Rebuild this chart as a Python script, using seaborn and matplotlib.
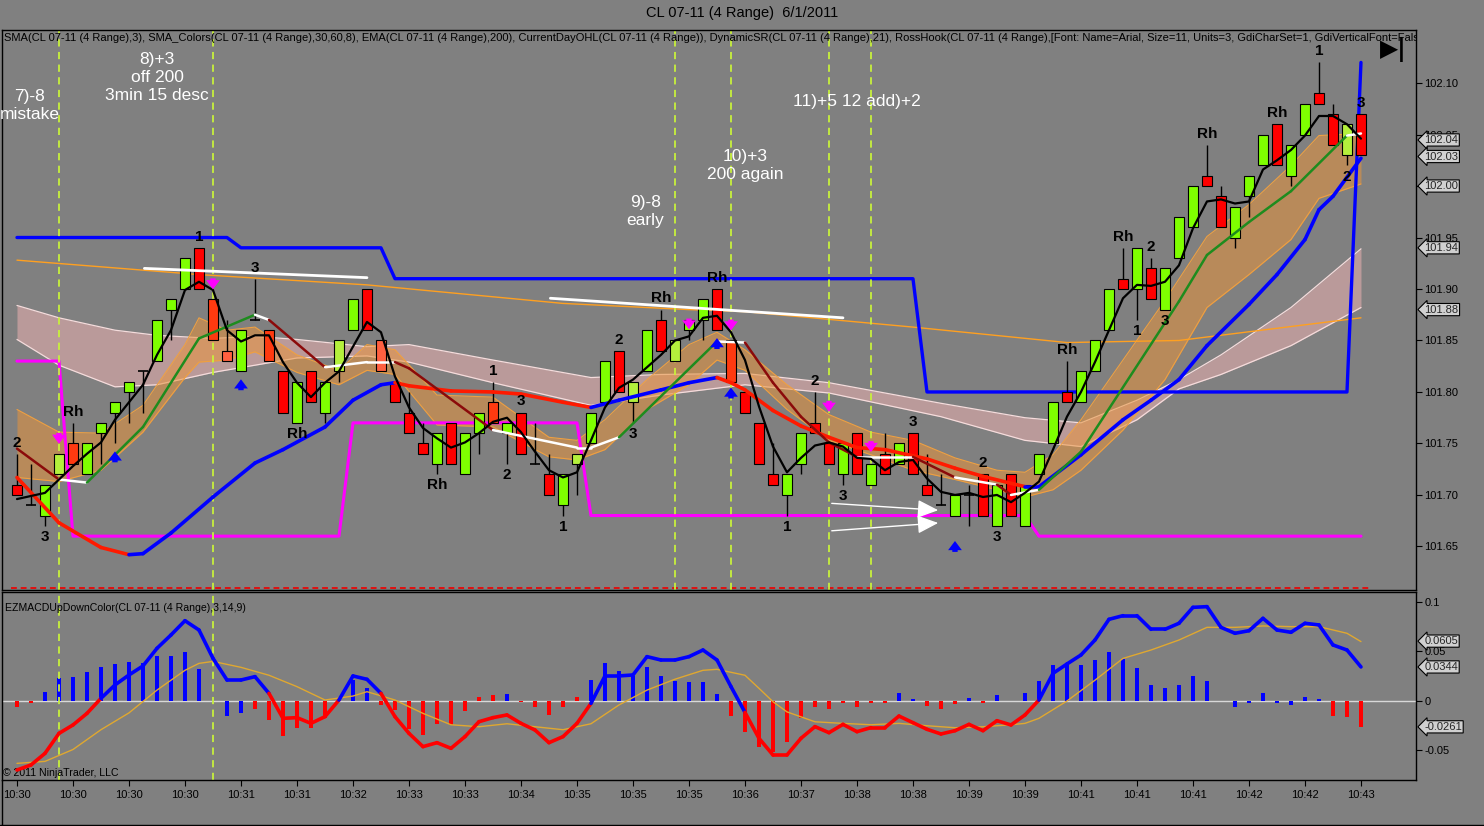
import matplotlib
matplotlib.use("Agg")
import matplotlib.pyplot as plt
import seaborn as sns
import pandas as pd
import numpy as np

# ---- CL 07-11 (4 Range) bars, 6/1/2011 ----
opens = [101.71, 101.69, 101.68, 101.72, 101.75, 101.72, 101.76, 101.78, 101.80, 101.82,
         101.83, 101.88, 101.90, 101.94, 101.89, 101.84, 101.82, 101.87, 101.86, 101.82,
         101.77, 101.82, 101.78, 101.82, 101.86, 101.90, 101.85, 101.81, 101.78, 101.75,
         101.73, 101.77, 101.72, 101.76, 101.79, 101.76, 101.78, 101.73, 101.72, 101.69,
         101.73, 101.75, 101.79, 101.84, 101.79, 101.82, 101.87, 101.83, 101.86, 101.87,
         101.90, 101.85, 101.80, 101.77, 101.72, 101.70, 101.73, 101.77, 101.75, 101.72,
         101.76, 101.71, 101.74, 101.73, 101.76, 101.71, 101.69, 101.68, 101.70, 101.72,
         101.67, 101.72, 101.67, 101.72, 101.75, 101.80, 101.79, 101.82, 101.86, 101.91,
         101.90, 101.92, 101.88, 101.93, 101.96, 102.01, 101.99, 101.95, 101.99, 102.02,
         102.06, 102.01, 102.05, 102.09, 102.07, 102.03, 102.07]
closes = [101.70, 101.69, 101.71, 101.74, 101.73, 101.75, 101.77, 101.79, 101.81, 101.82,
          101.87, 101.89, 101.93, 101.90, 101.85, 101.83, 101.86, 101.87, 101.83, 101.78,
          101.81, 101.79, 101.81, 101.85, 101.89, 101.86, 101.82, 101.79, 101.76, 101.74,
          101.76, 101.73, 101.76, 101.78, 101.77, 101.77, 101.74, 101.73, 101.70, 101.72,
          101.74, 101.78, 101.83, 101.80, 101.81, 101.86, 101.84, 101.85, 101.87, 101.89,
          101.86, 101.81, 101.78, 101.73, 101.71, 101.72, 101.76, 101.76, 101.73, 101.75,
          101.72, 101.73, 101.72, 101.75, 101.72, 101.70, 101.69, 101.70, 101.70, 101.68,
          101.71, 101.68, 101.71, 101.74, 101.79, 101.79, 101.82, 101.85, 101.90, 101.90,
          101.94, 101.89, 101.92, 101.97, 102.00, 102.00, 101.96, 101.98, 102.01, 102.05,
          102.02, 102.04, 102.08, 102.08, 102.04, 102.06, 102.03]
highs = [101.74, 101.73, 101.71, 101.74, 101.77, 101.75, 101.77, 101.79, 101.81, 101.82,
         101.87, 101.89, 101.93, 101.94, 101.89, 101.87, 101.86, 101.91, 101.86, 101.82,
         101.81, 101.82, 101.81, 101.85, 101.89, 101.90, 101.85, 101.81, 101.80, 101.77,
         101.76, 101.77, 101.76, 101.78, 101.81, 101.77, 101.78, 101.77, 101.74, 101.72,
         101.74, 101.78, 101.83, 101.84, 101.81, 101.86, 101.88, 101.85, 101.87, 101.89,
         101.90, 101.85, 101.80, 101.77, 101.75, 101.72, 101.76, 101.80, 101.75, 101.75,
         101.76, 101.73, 101.76, 101.75, 101.76, 101.74, 101.72, 101.70, 101.71, 101.72,
         101.71, 101.72, 101.71, 101.74, 101.79, 101.83, 101.82, 101.85, 101.90, 101.94,
         101.94, 101.93, 101.92, 101.97, 102.00, 102.04, 102.00, 101.98, 102.01, 102.05,
         102.06, 102.04, 102.08, 102.12, 102.08, 102.06, 102.07]
lows = [101.70, 101.69, 101.67, 101.72, 101.73, 101.72, 101.73, 101.75, 101.77, 101.78,
        101.83, 101.85, 101.90, 101.90, 101.85, 101.83, 101.82, 101.87, 101.83, 101.78,
        101.77, 101.79, 101.77, 101.81, 101.86, 101.86, 101.82, 101.79, 101.76, 101.74,
        101.72, 101.73, 101.72, 101.74, 101.77, 101.73, 101.74, 101.73, 101.70, 101.68,
        101.70, 101.75, 101.79, 101.80, 101.77, 101.82, 101.84, 101.83, 101.85, 101.85,
        101.86, 101.81, 101.78, 101.73, 101.71, 101.68, 101.72, 101.76, 101.73, 101.71,
        101.72, 101.71, 101.72, 101.73, 101.72, 101.70, 101.69, 101.68, 101.67, 101.68,
        101.67, 101.68, 101.67, 101.72, 101.75, 101.79, 101.79, 101.82, 101.86, 101.90,
        101.87, 101.89, 101.88, 101.93, 101.96, 102.00, 101.96, 101.94, 101.97, 102.02,
        102.02, 102.00, 102.05, 102.08, 102.04, 102.02, 102.03]
# bar paint: g green, y yellow-green, r red, o orange-red, t light red, k doji
bar_shade = ("rkgyoggggk" "gggrotgkor" "grgygrtrrr" "grggogrkrg" "yggrygrygg"
             "rorrrggrrg" "rgrgrrkgkr" "grgggrgggr" "grgggrrggg" "rggrryr")

time_labels = ["10:30", "10:30", "10:30", "10:30", "10:31", "10:31", "10:32", "10:33",
               "10:33", "10:34", "10:35", "10:35", "10:35", "10:36", "10:37", "10:38",
               "10:38", "10:39", "10:39", "10:41", "10:41", "10:41", "10:42", "10:42", "10:43"]

# SMA(3)
sma3 = [101.696, 101.699, 101.702, 101.715, 101.728, 101.740, 101.751, 101.773, 101.790, 101.807,
        101.836, 101.860, 101.899, 101.907, 101.899, 101.860, 101.849, 101.855, 101.855, 101.829,
        101.809, 101.795, 101.809, 101.820, 101.844, 101.868, 101.858, 101.815, 101.785, 101.765,
        101.755, 101.746, 101.751, 101.760, 101.771, 101.775, 101.761, 101.742, 101.724, 101.717,
        101.722, 101.753, 101.785, 101.804, 101.812, 101.824, 101.836, 101.850, 101.854, 101.872,
        101.874, 101.858, 101.831, 101.786, 101.747, 101.722, 101.736, 101.748, 101.751, 101.747,
        101.736, 101.735, 101.724, 101.732, 101.734, 101.716, 101.703, 101.700, 101.702, 101.698,
        101.700, 101.693, 101.702, 101.713, 101.744, 101.776, 101.800, 101.829, 101.860, 101.891,
        101.904, 101.903, 101.907, 101.923, 101.959, 101.985, 101.987, 101.983, 101.985, 102.016,
        102.025, 102.035, 102.049, 102.068, 102.068, 102.060, 102.046]

# EMA(200)
ema_bars = [0, 13, 25, 39, 48, 52, 64, 75, 83, 96]
ema_vals = [101.928, 101.914, 101.904, 101.886, 101.880, 101.878, 101.863, 101.848, 101.850, 101.872]

# DynamicSR
sr_high_bars = [0, 15, 16, 26, 27, 64, 65, 95, 96]
sr_high_vals = [101.95, 101.95, 101.94, 101.94, 101.91, 101.91, 101.80, 101.80, 102.12]
sr_low_bars = [0, 3, 4, 23, 24, 40, 41, 72, 73, 96]
sr_low_vals = [101.83, 101.83, 101.66, 101.66, 101.77, 101.77, 101.68, 101.68, 101.66, 101.66]
day_low = 101.61

# SMA_Colors slow line (blue rising / red falling)
slow_bars = [0, 3, 6, 8, 9, 11, 14, 17, 19, 22, 24, 26, 27, 28, 31, 34, 36, 39, 41, 43, 46, 48,
             50, 51, 52, 54, 56, 58, 60, 62, 65, 67, 69, 72, 73, 76, 79, 81, 83, 85, 88, 90, 92,
             93, 94, 96]
slow_vals = [101.717, 101.673, 101.649, 101.642, 101.643, 101.663, 101.698, 101.731, 101.744,
             101.766, 101.792, 101.807, 101.809, 101.806, 101.801, 101.800, 101.798, 101.790,
             101.785, 101.792, 101.802, 101.809, 101.814, 101.809, 101.802, 101.782, 101.767,
             101.756, 101.746, 101.744, 101.735, 101.726, 101.718, 101.708, 101.708, 101.739,
             101.773, 101.792, 101.812, 101.845, 101.885, 101.914, 101.948, 101.977, 101.990,
             102.027]

# SMA_Colors mid line, state per segment: u rising, d falling, f flat
mid_bars = [0, 3, 5, 9, 13, 17, 18, 22, 25, 27, 28, 34, 40, 41, 43, 50, 52, 54, 56, 58, 60, 64,
            67, 70, 71, 73, 76, 83, 85, 88, 91, 95, 96]
mid_vals = [101.745, 101.715, 101.712, 101.766, 101.852, 101.875, 101.870, 101.824, 101.829,
            101.829, 101.823, 101.763, 101.746, 101.746, 101.756, 101.849, 101.848, 101.809,
            101.776, 101.751, 101.737, 101.737, 101.717, 101.710, 101.700, 101.705, 101.742,
            101.888, 101.933, 101.965, 101.995, 102.049, 102.051]
mid_state = "dfuuufdffddfffufddddfdfdfuuuuuuf"

# fast envelope (orange)
fast_bars = [0, 3, 6, 9, 12, 13, 15, 17, 20, 23, 25, 27, 30, 34, 38, 40, 42, 45, 48, 50, 52, 55,
             58, 61, 64, 67, 70, 72, 74, 76, 79, 82, 85, 88, 91, 93, 96]
fast_hi = [101.783, 101.761, 101.760, 101.787, 101.846, 101.872, 101.860, 101.863, 101.836,
           101.821, 101.846, 101.841, 101.797, 101.795, 101.756, 101.753, 101.773, 101.812,
           101.846, 101.858, 101.841, 101.807, 101.778, 101.761, 101.753, 101.736, 101.724,
           101.722, 101.739, 101.773, 101.831, 101.889, 101.951, 101.982, 102.020, 102.049, 102.051]
fast_lo = [101.717, 101.713, 101.724, 101.761, 101.814, 101.829, 101.831, 101.839, 101.819,
           101.807, 101.821, 101.817, 101.768, 101.766, 101.737, 101.734, 101.744, 101.783,
           101.807, 101.831, 101.821, 101.783, 101.753, 101.739, 101.724, 101.715, 101.705,
           101.698, 101.705, 101.724, 101.763, 101.812, 101.882, 101.914, 101.948, 101.988, 102.002]

# slow envelope (pink)
env_bars = [0, 3, 7, 10, 14, 17, 20, 25, 28, 34, 41, 46, 52, 58, 66, 72, 76, 80, 83, 86, 91, 96]
env_hi = [101.884, 101.872, 101.860, 101.855, 101.852, 101.854, 101.851, 101.844, 101.846,
          101.831, 101.814, 101.817, 101.818, 101.809, 101.789, 101.775, 101.770, 101.792,
          101.812, 101.836, 101.882, 101.939]
env_lo = [101.851, 101.826, 101.805, 101.807, 101.819, 101.826, 101.833, 101.835, 101.829,
          101.809, 101.787, 101.797, 101.807, 101.799, 101.776, 101.753, 101.747, 101.773,
          101.803, 101.817, 101.845, 101.882]

# EZMACDUpDownColor(3,14,9)
macd = [-0.0697, -0.0646, -0.0529, -0.0327, -0.0242, -0.0125, 0.0027, 0.0162, 0.0263, 0.0354,
        0.0532, 0.0667, 0.0811, 0.0717, 0.0431, 0.0212, 0.0212, 0.0246, 0.0077, -0.0175,
        -0.0168, -0.0226, -0.0158, 0.0010, 0.0253, 0.0219, 0.0077, -0.0158, -0.0327, -0.0461,
        -0.0421, -0.0478, -0.0360, -0.0209, -0.0168, -0.0141, -0.0226, -0.0293, -0.0421, -0.0360,
        -0.0226, -0.0024, 0.0253, 0.0253, 0.0263, 0.0448, 0.0414, 0.0414, 0.0448, 0.0515,
        0.0414, 0.0145, -0.0115, -0.0377, -0.0545, -0.0545, -0.0377, -0.0259, -0.0320, -0.0236,
        -0.0310, -0.0269, -0.0269, -0.0152, -0.0219, -0.0286, -0.0333, -0.0300, -0.0236, -0.0300,
        -0.0199, -0.0242, -0.0141, 0.0010, 0.0279, 0.0374, 0.0465, 0.0616, 0.0825, 0.0862,
        0.0862, 0.0724, 0.0724, 0.0785, 0.0946, 0.0953, 0.0744, 0.0684, 0.0710, 0.0835,
        0.0717, 0.0694, 0.0785, 0.0768, 0.0566, 0.0515, 0.0344]
signal_bars = [0, 2, 4, 6, 8, 10, 12, 13, 14, 16, 18, 20, 22, 24, 25, 27, 29, 31, 33, 35, 37, 39,
               41, 43, 45, 47, 49, 50, 52, 53, 54, 55, 57, 59, 61, 63, 65, 67, 69, 71, 72, 73, 75,
               77, 79, 81, 83, 85, 87, 89, 91, 93, 95, 96]
signal_vals = [-0.063, -0.061, -0.049, -0.029, -0.012, 0.011, 0.031, 0.038, 0.040, 0.034, 0.026,
               0.0145, 0.001, 0.005, 0.0094, 0.001, -0.0125, -0.024, -0.026, -0.023, -0.026,
               -0.029, -0.023, -0.004, 0.011, 0.022, 0.031, 0.032, 0.026, 0.0128, -0.0007,
               -0.011, -0.021, -0.0226, -0.024, -0.0226, -0.025, -0.027, -0.026, -0.024, -0.0226,
               -0.0175, 0.0, 0.021, 0.043, 0.0515, 0.0616, 0.0744, 0.0744, 0.0758, 0.0751,
               0.0751, 0.0684, 0.0600]
hist = [-0.0057, -0.0017, 0.0094, 0.0229, 0.0246, 0.0296, 0.0340, 0.0374, 0.0397, 0.0380,
        0.0458, 0.0458, 0.0498, 0.0323, 0.0, -0.0152, -0.0118, -0.0081, -0.0192, -0.0350,
        -0.0276, -0.0276, -0.0175, 0.0, 0.0212, 0.0135, -0.0040, -0.0091, -0.0286, -0.0343,
        -0.0232, -0.0242, -0.0101, 0.0037, 0.0060, 0.0067, -0.0010, -0.0064, -0.0141, -0.0064,
        0.0037, 0.0212, 0.0387, 0.0303, 0.0256, 0.0340, 0.0253, 0.0205, 0.0195, 0.0195,
        0.0071, -0.0148, -0.0310, -0.0461, -0.0512, -0.0410, -0.0175, -0.0057, -0.0084, -0.0017,
        -0.0057, -0.0024, -0.0024, 0.0077, 0.0020, -0.0050, -0.0081, -0.0034, 0.0034, -0.0024,
        0.0060, 0.0, 0.0084, 0.0205, 0.0364, 0.0364, 0.0364, 0.0414, 0.0492, 0.0421,
        0.0330, 0.0162, 0.0135, 0.0162, 0.0253, 0.0205, 0.0, -0.0057, -0.0017, 0.0084,
        -0.0024, -0.0040, 0.0037, 0.0024, -0.0152, -0.0158, -0.0259]
hist_color = ("rrbbbbbbbb" "bbbbbbbrrr" "rrrrbbrrrr" "rrrrrbrrrr" "rbbbbbbbbb"
              "brrrrrrrrr" "rrrbbrrrbr" "bbbbbbbbbb" "bbbbbbbbbb" "bbbbrrr")

price_tags = [102.04, 102.03, 102.00, 101.94, 101.88]
macd_tags = [0.0605, 0.0344, -0.0261]

# RossHook swing labels: (bar, text, above/below)
swing_labels = [(0, "2", "a"), (2, "3", "b"), (4, "Rh", "a"), (13, "1", "a"), (17, "3", "a"),
                (20, "Rh", "b"), (30, "Rh", "b"), (34, "1", "a"), (35, "2", "b"), (36, "3", "a"),
                (39, "1", "b"), (43, "2", "a"), (44, "3", "b"), (46, "Rh", "a"), (50, "Rh", "a"),
                (55, "1", "b"), (57, "2", "a"), (59, "3", "b"), (64, "3", "a"), (69, "2", "a"),
                (70, "3", "b"), (75, "Rh", "a"), (79, "Rh", "a"), (80, "1", "b"), (81, "2", "a"),
                (82, "3", "b"), (85, "Rh", "a"), (90, "Rh", "a"), (93, "1", "a"), (95, "2", "b"),
                (96, "3", "a")]
entry_bars = [3, 14, 47, 51, 58, 61]
short_arrow_bars = [3, 14, 48, 51, 58, 61]
short_arrow_tips = [101.747, 101.897, 101.858, 101.857, 101.778, 101.739]
long_arrow_bars = [7, 16, 50, 51, 67]
long_arrow_tips = [101.745, 101.815, 101.855, 101.807, 101.658]
trade_notes = ["7)-8\nmistake", "8)+3\noff 200\n3min 15 desc", "9)-8\nearly",
               "10)+3\n200 again", "11)+5 12 add)+2"]

sns.set_style("ticks")
plt.rcParams["font.family"] = ["Liberation Sans", "DejaVu Sans"]
GREY = "#808080"

fig = plt.figure(figsize=(14.84, 8.26), dpi=100, facecolor=GREY)
ax = fig.add_axes([2 / 1484, 236 / 826, 1414 / 1484, 560 / 826], facecolor=GREY)
ax2 = fig.add_axes([2 / 1484, 46 / 826, 1414 / 1484, 188 / 826], facecolor=GREY, sharex=ax)

# envelopes
ax.fill_between(env_bars, env_lo, env_hi, color="#F4B4B4", alpha=0.5, lw=0, zorder=1)
ax.plot(env_bars, env_hi, color="#F5DCDC", lw=0.9, zorder=1.2)
ax.plot(env_bars, env_lo, color="#F5DCDC", lw=0.9, zorder=1.2)
ax.fill_between(fast_bars, fast_lo, fast_hi, color="#E8943C", alpha=0.55, lw=0, zorder=1.5)
ax.plot(fast_bars, fast_hi, color="#F0A040", lw=0.8, zorder=1.6)
ax.plot(fast_bars, fast_lo, color="#F0A040", lw=0.8, zorder=1.6)

sns.lineplot(x=ema_bars, y=ema_vals, ax=ax, color="#FFA020", lw=1, zorder=2)
ax.plot(sr_high_bars, sr_high_vals, color="#0000FF", lw=2.4, zorder=2)
ax.plot(sr_low_bars, sr_low_vals, color="#FF00FF", lw=2.2, zorder=2)
ax.plot([-0.4, 96.6], [day_low, day_low], color="#E01010", lw=1.4, ls=(0, (3, 2)), zorder=2)

for b in entry_bars:
    ax.axvline(b, color="#C8F03C", lw=1.3, ls=(0, (4, 3)), zorder=2.5)
for b in entry_bars[:2]:
    ax2.axvline(b, color="#C8F03C", lw=1.3, ls=(0, (4, 3)), zorder=2.5)

# candles
df = pd.DataFrame({"o": opens, "c": closes, "h": highs, "l": lows, "shade": list(bar_shade)})
df["bar"] = np.arange(len(df))
paint = {"g": "#7FFF00", "y": "#B4F03C", "r": "#FF0000", "o": "#FF3A10", "t": "#FF6040"}
ax.vlines(df.bar, df.l, df.h, color="black", lw=1, zorder=4)
body = df[df.shade != "k"]
ax.bar(body.bar, (body.c - body.o).abs(), bottom=np.minimum(body.o, body.c), width=0.66,
       color=[paint[s] for s in body.shade], edgecolor="black", linewidth=0.8, zorder=5)
doji = df[df.shade == "k"]
ax.hlines(doji.o, doji.bar - 0.33, doji.bar + 0.33, color="black", lw=1.2, zorder=5)

# slow SMA coloured by slope
for k in range(len(slow_bars) - 1):
    col = "#0000FF" if slow_vals[k + 1] >= slow_vals[k] else "#FF1A00"
    ax.plot(slow_bars[k:k + 2], slow_vals[k:k + 2], color=col, lw=2.6,
            solid_capstyle="round", zorder=6)

state_col = {"u": "#1E8C1E", "d": "#8B0A0A", "f": "white"}
for k, s in enumerate(mid_state):
    ax.plot(mid_bars[k:k + 2], mid_vals[k:k + 2], color=state_col[s], lw=1.8,
            solid_capstyle="round", zorder=6.5)

sns.lineplot(x=df.bar, y=sma3, ax=ax, color="black", lw=1.6, zorder=7)

# drawn trend lines and arrows
ax.plot([9.1, 25], [101.920, 101.911], color="white", lw=2, zorder=7)
ax.plot([38.1, 59], [101.891, 101.872], color="white", lw=2, zorder=7)
for y0, y1 in [(101.692, 101.685), (101.665, 101.673)]:
    ax.annotate("", xy=(66, y1), xytext=(58, y0), zorder=8,
                arrowprops=dict(arrowstyle="-|>,head_length=0.8,head_width=0.35",
                                color="white", lw=1, mutation_scale=16))
for b, p in zip(short_arrow_bars, short_arrow_tips):
    ax.annotate("", xy=(b, p), xytext=(b, p + 0.016), zorder=8,
                arrowprops=dict(arrowstyle="simple,head_width=0.9,head_length=0.6,tail_width=0.35",
                                color="#FF00FF", mutation_scale=11, lw=0))
for b, p in zip(long_arrow_bars, long_arrow_tips):
    ax.annotate("", xy=(b, p), xytext=(b, p - 0.016), zorder=8,
                arrowprops=dict(arrowstyle="simple,head_width=0.9,head_length=0.6,tail_width=0.35",
                                color="#0000FF", mutation_scale=11, lw=0))

for b, txt, side in swing_labels:
    yv = df.h[b] if side == "a" else df.l[b]
    ax.annotate(txt, xy=(b, yv), xytext=(0, 8 if side == "a" else -8),
                textcoords="offset points", ha="center", va="center",
                fontsize=11, fontweight="bold", color="black", zorder=9)

note_pos = [(0.9, 102.078), (10, 102.105), (44.9, 101.975), (52, 102.020), (60, 102.082)]
for (xb, yp), txt in zip(note_pos, trade_notes):
    ax.text(xb, yp, txt, color="white", fontsize=12.5, ha="center", va="center",
            linespacing=1.25, zorder=9)

ax.text(0.0015, 0.986, "SMA(CL 07-11 (4 Range),3), SMA_Colors(CL 07-11 (4 Range),30,60,8), "
        "EMA(CL 07-11 (4 Range),200), CurrentDayOHL(CL 07-11 (4 Range)), "
        "DynamicSR(CL 07-11 (4 Range),21), RossHook(CL 07-11 (4 Range),[Font: Name=Arial, "
        "Size=11, Units=3, GdiCharSet=1, GdiVerticalFont=False",
        transform=ax.transAxes, fontsize=8.05, va="center", ha="left", color="black",
        clip_on=True, zorder=10)
ax.text(0.984, 0.966, "\u25B6|", transform=ax.transAxes, fontsize=17, fontweight="bold",
        family="DejaVu Sans", ha="center", va="center", color="black", zorder=11)

ax.set_xlim(-1.07, 99.93)
ax.set_ylim(101.6077, 102.1515)
ax.yaxis.tick_right()
price_ticks = np.round(np.arange(101.65, 102.101, 0.05), 2)
ax.set_yticks(price_ticks)
# the 102.00 level is covered by its own value tag
ax.set_yticklabels(["" if abs(t - 102.00) < 1e-6 else f"{t:.2f}" for t in price_ticks])
ax.tick_params(axis="y", direction="out", length=4, labelsize=8, colors="black", pad=2)
ax.tick_params(axis="x", bottom=False, labelbottom=False)
ax.set_xlabel("")
ax.set_ylabel("")
tag_nudge = [3.5, -1, 0, 0, 0]
for v, dy in zip(price_tags, tag_nudge):
    ax.annotate(f"{v:.2f}", xy=(1.0, v), xycoords=("axes fraction", "data"), xytext=(6, dy),
                textcoords="offset points", ha="left", va="center", fontsize=8,
                bbox=dict(boxstyle="larrow,pad=0.1", fc="#D0D0D0", ec="black", lw=0.8),
                annotation_clip=False, zorder=11)

# MACD panel
ax2.axhline(0, color="#D8D8D8", lw=1, zorder=1)
ax2.bar(df.bar, hist, width=0.22, linewidth=0,
        color=["#0000FF" if c == "b" else "#FF0000" for c in hist_color], zorder=2)
sns.lineplot(x=signal_bars, y=signal_vals, ax=ax2, color="#E0A830", lw=1, zorder=3)
for k in range(len(macd) - 1):
    col = "#0000FF" if macd[k] + macd[k + 1] >= 0 else "#FF0000"
    ax2.plot([k, k + 1], macd[k:k + 2], color=col, lw=2.6, solid_capstyle="round", zorder=4)
ax2.set_ylim(-0.0798, 0.1101)
ax2.yaxis.tick_right()
ax2.set_yticks([0.1, 0.05, 0, -0.05])
ax2.set_yticklabels(["0.1", "0.05", "0", "-0.05"])
ax2.tick_params(axis="y", direction="out", length=4, labelsize=8, colors="black", pad=2)
ax2.set_xticks(np.arange(0, 97, 4))
ax2.set_xticklabels(time_labels)
ax2.tick_params(axis="x", direction="out", length=4, labelsize=8, colors="black", pad=3)
ax2.set_xlabel("")
ax2.set_ylabel("")
for v in macd_tags:
    ax2.annotate(f"{v:.4f}", xy=(1.0, v), xycoords=("axes fraction", "data"), xytext=(6, 0),
                 textcoords="offset points", ha="left", va="center", fontsize=8,
                 bbox=dict(boxstyle="larrow,pad=0.1", fc="#D0D0D0", ec="black", lw=0.8),
                 annotation_clip=False, zorder=11)
ax2.text(0.002, 0.915, "EZMACDUpDownColor(CL 07-11 (4 Range),3,14,9)", transform=ax2.transAxes,
         fontsize=7.6, ha="left", va="center", color="black")
ax2.text(0.001, 0.037, "\u00A9 2011 NinjaTrader, LLC", transform=ax2.transAxes,
         fontsize=7.6, ha="left", va="center", color="black")

for a in (ax, ax2):
    for sp in a.spines.values():
        sp.set_color("black")
        sp.set_linewidth(1)
        sp.set_visible(True)

fig.text(0.5, 0.984, "CL 07-11 (4 Range)  6/1/2011", ha="center", va="center",
         fontsize=10.5, color="black")
fig.add_artist(plt.Line2D([0, 1], [1 / 826, 1 / 826], color="black", lw=1,
                          transform=fig.transFigure))
fig.add_artist(plt.Line2D([2 / 1484, 2 / 1484], [1 / 826, 46 / 826], color="black", lw=1,
                          transform=fig.transFigure))

fig.savefig("out.png", dpi=100, facecolor=GREY)
